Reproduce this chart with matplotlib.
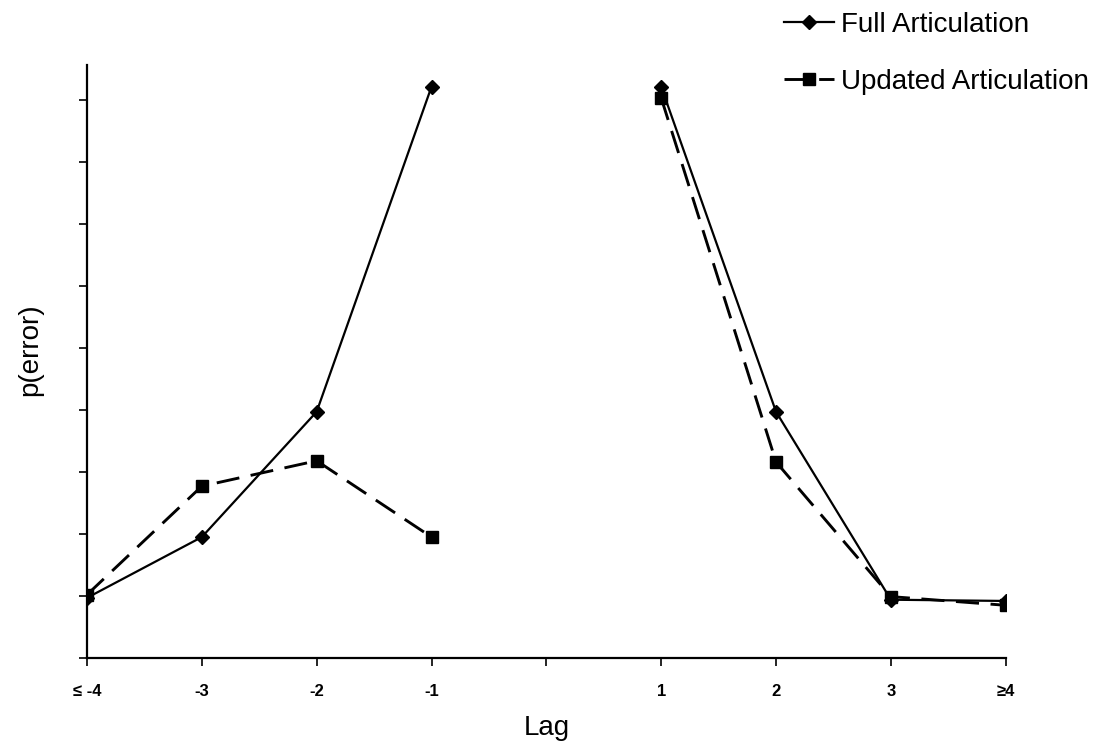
import matplotlib
matplotlib.use("Agg")
import matplotlib.pyplot as plt

plt.rcParams['font.family'] = ['Liberation Sans', 'DejaVu Sans']

lag_labels = ["≤ -4", "-3", "-2", "-1", "", "1", "2", "3", "≥4"]
lag_pos = [-4, -3, -2, -1, 0, 1, 2, 3, 4]

neg_x = [-4, -3, -2, -1]
pos_x = [1, 2, 3, 4]
full_neg = [0.97, 1.95, 3.97, 9.21]
full_pos = [9.21, 3.97, 0.94, 0.92]
upd_neg = [1.02, 2.77, 3.18, 1.95]
upd_pos = [9.03, 3.16, 0.99, 0.85]

fig = plt.figure(figsize=(11.15, 7.56), dpi=100)
ax = fig.add_axes([0.078, 0.1296, 0.824, 0.7844])

lw = 1.6
for xs, ys in [(neg_x, full_neg), (pos_x, full_pos)]:
    ax.plot(xs, ys, color='black', lw=lw, marker='D', markersize=7,
            label='Full Articulation' if xs is neg_x else None)
for xs, ys in [(neg_x, upd_neg), (pos_x, upd_pos)]:
    ax.plot(xs, ys, color='black', lw=lw*1.3, ls=(0, (8, 4)), marker='s', markersize=8,
            label='Updated Articulation' if xs is neg_x else None)

ax.set_xlim(-4, 4)
ax.set_ylim(0, 9.56)
ax.set_xticks(lag_pos)
ax.set_xticklabels(lag_labels, fontsize=12, fontweight='bold')
ax.set_yticks(list(range(0, 10)))
ax.set_yticklabels([])
ax.tick_params(axis='both', direction='out', length=6, width=1.2, colors='black')
ax.tick_params(axis='x', pad=13)
for s in ['top', 'right']:
    ax.spines[s].set_visible(False)
for s in ['left', 'bottom']:
    ax.spines[s].set_linewidth(1.6)

ax.set_xlabel('Lag', fontsize=20, labelpad=11)
ax.set_ylabel('p(error)', fontsize=20)
ax.yaxis.set_label_coords(-0.048, 0.52)

leg = fig.legend(loc='upper right', bbox_to_anchor=(0.999, 1.017), frameon=False,
                 fontsize=20, handlelength=1.8, handletextpad=0.25, labelspacing=1.1)

fig.savefig('out.png', dpi=100)
